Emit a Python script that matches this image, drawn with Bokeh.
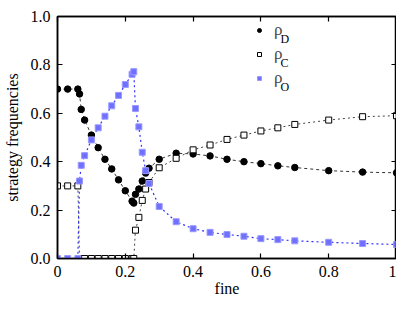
from bokeh.plotting import figure
from bokeh.models import (ColumnDataSource, FixedTicker, CustomJSTickFormatter, LinearAxis,
                          Range1d, Legend, LegendItem, Label)
from bokeh.embed import file_html
from bokeh.resources import INLINE

# fine values
fine = [0, 0.03, 0.06, 0.065, 0.07, 0.08, 0.10, 0.12, 0.14, 0.16, 0.18, 0.20, 0.22, 0.225,
        0.23, 0.24, 0.25, 0.26, 0.27, 0.30, 0.35, 0.40, 0.45, 0.50, 0.55, 0.60, 0.65, 0.70,
        0.80, 0.90, 1.0]
rho_D = [0.70, 0.70, 0.70, 0.68, 0.616, 0.572, 0.51, 0.458, 0.41, 0.37, 0.325, 0.28, 0.237, 0.229,
         0.265, 0.287, 0.32, 0.353, 0.373, 0.41, 0.435, 0.432, 0.424, 0.41, 0.40, 0.392, 0.383, 0.376,
         0.363, 0.357, 0.354]
rho_C = [0.30, 0.30, 0.30, 0.0, 0.0, 0.0, 0.0, 0.0, 0.0, 0.0, 0.0, 0.0, 0.0, 0.0,
         0.117, 0.17, 0.24, 0.287, 0.314, 0.375, 0.414, 0.449, 0.469, 0.492, 0.51, 0.527, 0.54, 0.554,
         0.572, 0.586, 0.59]
rho_O = [0.0, 0.0, 0.0, 0.32, 0.385, 0.425, 0.49, 0.54, 0.588, 0.631, 0.674, 0.719, 0.761, 0.772,
         0.62, 0.544, 0.439, 0.363, 0.31, 0.215, 0.152, 0.123, 0.108, 0.099, 0.092, 0.082, 0.078, 0.073,
         0.067, 0.062, 0.058]
x_ticks = [0, 0.2, 0.4, 0.6, 0.8, 1.0]
y_ticks = [0, 0.2, 0.4, 0.6, 0.8, 1.0]
legend_symbol = "ρ"
legend_subs = ["D", "C", "O"]

src = ColumnDataSource(dict(x=fine, d=rho_D, c=rho_C, o=rho_O))

FONT = "Liberation Serif"
p = figure(output_backend="svg", toolbar_location=None,
           x_range=Range1d(0, 1), y_range=Range1d(0, 1),
           frame_width=339, frame_height=242,
           min_border_left=52, min_border_right=0, min_border_top=16, min_border_bottom=0)
p.grid.visible = False
p.outline_line_color = "black"
p.outline_line_width = 1.5
p.background_fill_color = "white"
p.border_fill_color = "white"

def style_axis(ax, ticks, show_labels=True):
    ax.ticker = FixedTicker(ticks=ticks)
    ax.major_tick_in = 5
    ax.major_tick_out = 0
    ax.minor_tick_in = 0
    ax.minor_tick_out = 0
    ax.axis_line_color = "black"
    ax.axis_line_width = 1.5
    ax.major_tick_line_width = 1.2
    ax.major_label_text_font = FONT
    ax.major_label_text_font_size = "16px"
    ax.major_label_text_color = "black"
    ax.axis_label_text_font = FONT
    ax.axis_label_text_font_size = "16px"
    ax.axis_label_text_font_style = "normal"
    ax.axis_label_text_color = "black"
    if not show_labels:
        ax.major_label_text_font_size = "1px"
        ax.formatter = CustomJSTickFormatter(code="return '';")
        ax.major_label_standoff = 0

xa = p.xaxis[0]
ya = p.yaxis[0]
style_axis(xa, x_ticks)
style_axis(ya, y_ticks)
xa.formatter = CustomJSTickFormatter(code="return String(Math.round(tick*10)/10);")
ya.formatter = CustomJSTickFormatter(code="return tick.toFixed(1);")
xa.axis_label = "fine"
ya.axis_label = "strategy frequencies"
xa.major_label_standoff = 7
xa.axis_label_standoff = 0
ya.major_label_standoff = 7
ya.axis_label_standoff = 7

top = LinearAxis()
style_axis(top, x_ticks, show_labels=False)
p.add_layout(top, "above")
right = LinearAxis()
style_axis(right, y_ticks, show_labels=False)
p.add_layout(right, "right")

# lines
p.line("x", "d", source=src, line_color="#333333", line_dash="3 3", line_width=1)
p.line("x", "c", source=src, line_color="#444444", line_dash="2 3", line_width=1)
p.line("x", "o", source=src, line_color="#3030ff", line_dash="2 3", line_width=1.2)
# markers
p.scatter("x", "d", source=src, marker="circle", size=6.5, fill_color="black", line_color="black")
p.scatter("x", "c", source=src, marker="square", size=6, fill_color="white", line_color="black", line_width=1)
p.scatter("x", "o", source=src, marker="square", size=6, fill_color="#7070ff", line_color="#9a9aff", line_width=1)

# legend-only markers (a single NaN point, never drawn in the plot)
nan_src = ColumnDataSource(dict(x=[float("nan")], y=[float("nan")]))
lg_d = p.scatter("x", "y", source=nan_src, marker="circle", size=5, fill_color="black", line_color="black")
lg_c = p.scatter("x", "y", source=nan_src, marker="square", size=5, fill_color="white", line_color="black")
lg_o = p.scatter("x", "y", source=nan_src, marker="square", size=5, fill_color="#7070ff", line_color="#9a9aff")
legend = Legend(items=[LegendItem(label=legend_symbol, renderers=[r]) for r in (lg_d, lg_c, lg_o)],
                location=(197, 170), background_fill_alpha=0, border_line_alpha=0,
                label_text_font=FONT, label_text_font_size="17px", glyph_width=10, glyph_height=20,
                label_height=20, spacing=4, padding=0, margin=0, label_standoff=10)
p.add_layout(legend, "center")
for i, s in enumerate(legend_subs):
    p.add_layout(Label(x=223, y=220 - i * 24, x_units="screen", y_units="screen", text=s,
                       text_font=FONT, text_font_size="12px", text_color="black",
                       text_baseline="alphabetic"))

open("out.html", "w").write(file_html(p, INLINE))
